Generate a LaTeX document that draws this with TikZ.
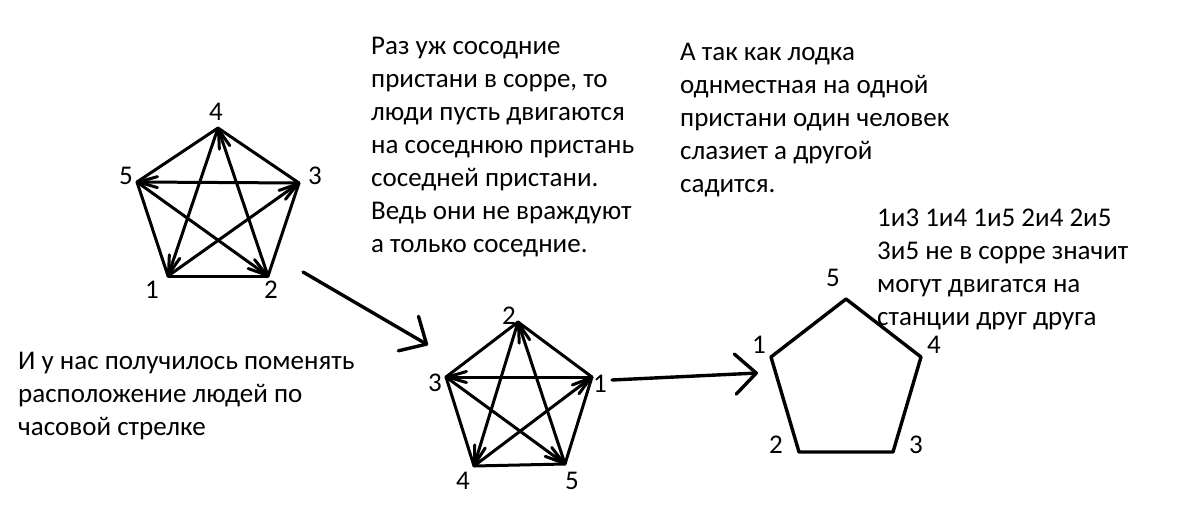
\documentclass[tikz,border=0pt]{standalone}
\usepackage{fontspec}
\setmainfont{Carlito}
\usetikzlibrary{arrows.meta}
\tikzset{
  pedge/.style={line width=3pt, line cap=round, line join=round},
  parr/.style={line width=3pt, line cap=round, -{Straight Barb[length=19pt,width=11pt,round]}},
  bigarr/.style={line width=3.4pt, line cap=round, -{Straight Barb[length=21pt,width=40pt,round]}},
  lbl/.style={inner sep=0pt, font=\fontsize{27}{30}\selectfont},
  txt/.style={anchor=base west, inner sep=0pt, font=\fontsize{27}{33}\selectfont}
}
\begin{document}
\begin{tikzpicture}[x=1pt,y=-1pt]
\fill[white] (0,0) rectangle (1200,519);
\useasboundingbox (0,0) rectangle (1200,519);

% ---------- pentagon 1 ----------
\coordinate (p1v4) at (218,128);
\coordinate (p1v5) at (137,182);
\coordinate (p1v3) at (299,183);
\coordinate (p1v1) at (168,276);
\coordinate (p1v2) at (268,276);
\draw[pedge] (p1v4) -- (p1v5);
\draw[pedge] (p1v4) -- (p1v3);
\draw[pedge] (p1v5) -- (p1v1);
\draw[pedge] (p1v3) -- (p1v2);
\draw[pedge] (p1v1) -- (p1v2);
\draw[parr] (p1v3) -- (p1v5);
\draw[parr] (p1v1) -- (p1v3);
\draw[parr] (p1v4) -- (p1v1);
\draw[parr] (p1v5) -- (p1v2);
\draw[parr] (p1v2) -- (p1v4);
\node[lbl] (p1l4) at (216,112) {4};
\node[lbl] (p1l5) at (126,176) {5};
\node[lbl] (p1l3) at (315,176) {3};
\node[lbl] (p1l1) at (152,290) {1};
\node[lbl] (p1l2) at (271,290) {2};

% ---------- pentagon 2 ----------
\coordinate (p2v2) at (518,322);
\coordinate (p2v3) at (446,377);
\coordinate (p2v1) at (592,377);
\coordinate (p2v4) at (474,466);
\coordinate (p2v5) at (565,464);
\draw[pedge] (p2v2) -- (p2v3);
\draw[pedge] (p2v2) -- (p2v1);
\draw[pedge] (p2v3) -- (p2v4);
\draw[pedge] (p2v1) -- (p2v5);
\draw[pedge] (p2v4) -- (p2v5);
\draw[parr] (p2v1) -- (p2v3);
\draw[parr] (p2v3) -- (p2v5);
\draw[parr] (p2v5) -- (p2v2);
\draw[parr] (p2v2) -- (p2v4);
\draw[parr] (p2v4) -- (p2v1);
\node[lbl] (p2l2) at (509,316) {2};
\node[lbl] (p2l3) at (435,383) {3};
\node[lbl] (p2l1) at (600,384) {1};
\node[lbl] (p2l4) at (463,481) {4};
\node[lbl] (p2l5) at (572,481) {5};

% ---------- pentagon 3 ----------
\coordinate (p3v5) at (846,299);
\coordinate (p3v1) at (771,357);
\coordinate (p3v4) at (921,357);
\coordinate (p3v2) at (799,452);
\coordinate (p3v3) at (893,452);
\draw[pedge, line width=3.4pt] (p3v5) -- (p3v1) -- (p3v2) -- (p3v3) -- (p3v4) -- cycle;
\node[lbl] (p3l5) at (833,278) {5};
\node[lbl] (p3l1) at (759,345) {1};
\node[lbl] (p3l4) at (934,345) {4};
\node[lbl] (p3l2) at (776,445) {2};
\node[lbl] (p3l3) at (916,445) {3};

% ---------- big arrows ----------
\coordinate (a1s) at (303,272);
\coordinate (a1e) at (428,345);
\coordinate (a2s) at (612,380);
\coordinate (a2e) at (758,373);
\draw[bigarr] (a1s) -- (a1e);
\draw[bigarr] (a2s) -- (a2e);

% ---------- texts ----------
\node[txt] (t1) at (371,55) {\begin{tabular}[t]{@{}l@{}}Раз уж сосодние\\пристани в сорре, то\\люди пусть двигаются\\на соседнюю пристань\\соседней пристани.\\Ведь они не враждуют\\а только соседние.\end{tabular}};
\node[txt] (t2) at (680,61) {\begin{tabular}[t]{@{}l@{}}А так как лодка\\однместная на одной\\пристани один человек\\слазиет а другой\\садится.\end{tabular}};
\node[txt] (t3) at (877,226) {\begin{tabular}[t]{@{}l@{}}1и3 1и4 1и5 2и4 2и5\\3и5 не в сорре значит\\могут двигатся на\\станции друг друга\end{tabular}};
\node[txt] (t4) at (18,369) {\begin{tabular}[t]{@{}l@{}}И у нас получилось поменять\\расположение людей по\\часовой стрелке\end{tabular}};
\end{tikzpicture}
\end{document}
